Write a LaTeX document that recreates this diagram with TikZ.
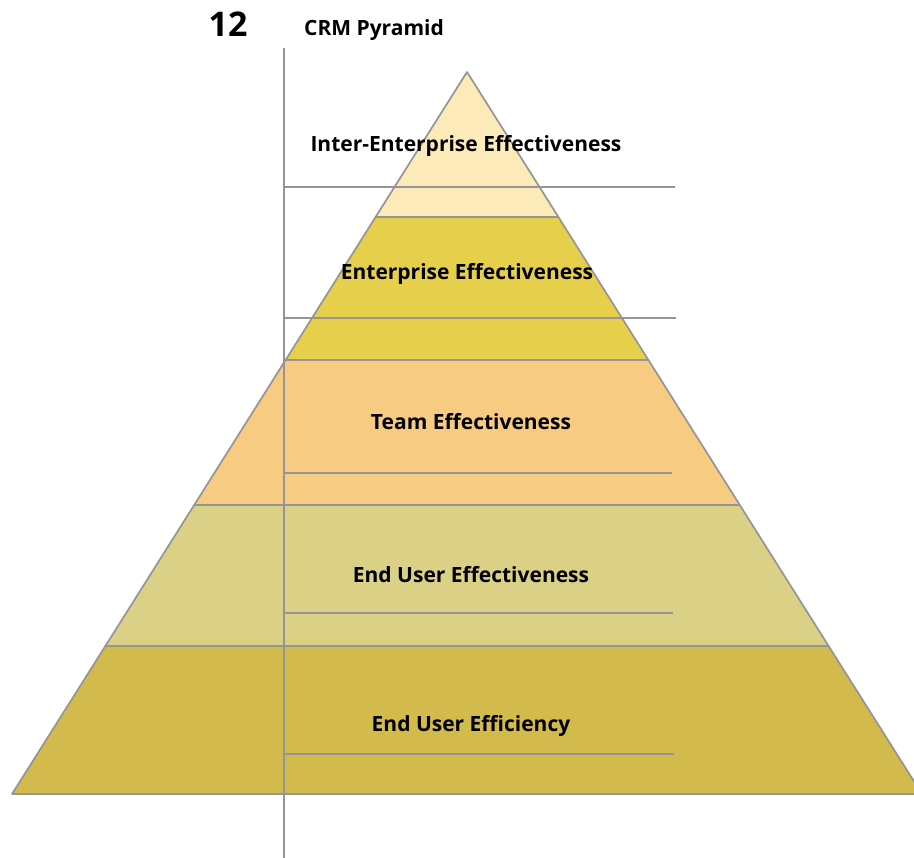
\documentclass[tikz,border=0pt]{standalone}
\usepackage{fontspec}
\setmainfont{Open Sans}
\begin{document}
\begin{tikzpicture}[x=1pt,y=-1pt,
  rule/.style={draw=ruleGray,line width=1.7pt},
  tier/.style={draw=ruleGray,line width=1.7pt,line join=round},
  tierlabel/.style={font=\bfseries\fontsize{21}{24}\selectfont,inner sep=0pt,anchor=center},
  ]
\definecolor{ruleGray}{HTML}{959595}
\definecolor{tierA}{HTML}{FDEAB9}
\definecolor{tierB}{HTML}{E5CF4B}
\definecolor{tierC}{HTML}{F8CB82}
\definecolor{tierD}{HTML}{DAD086}
\definecolor{tierE}{HTML}{D3BA4D}
\useasboundingbox (0,0) rectangle (914,858);
\clip (0,0) rectangle (914,858);
% pyramid tiers, apex at (467,72), half-width grows 0.630 per unit of depth
\filldraw[tier,fill=tierA] (467,72) -- (558.4,217) -- (375.6,217) -- cycle;
\filldraw[tier,fill=tierB] (375.6,217) -- (558.4,217) -- (648.4,360) -- (285.6,360) -- cycle;
\filldraw[tier,fill=tierC] (285.6,360) -- (648.4,360) -- (739.8,505) -- (194.2,505) -- cycle;
\filldraw[tier,fill=tierD] (194.2,505) -- (739.8,505) -- (828.6,646) -- (105.4,646) -- cycle;
\filldraw[tier,fill=tierE] (105.4,646) -- (828.6,646) -- (922,794) -- (12,794) -- cycle;
% axis and guide rules
\coordinate (axT) at (284,48);
\coordinate (axB) at (284,858);
\draw[rule] (axT) -- (axB);
\foreach \yy/\xe in {187/675,318/676,473/672,613/673,754/674}{
  \draw[rule] (284,\yy) -- (\xe,\yy);
}
% headings
\node[font=\bfseries\fontsize{34}{38}\selectfont,inner sep=0pt] (num) at (228,24) {12};
\node[font=\bfseries\fontsize{21}{24}\selectfont,inner sep=0pt] (ttl) at (374,30) {CRM Pyramid};
% tier labels
\node[tierlabel] (l1) at (466,146) {Inter-Enterprise Effectiveness};
\node[tierlabel] (l2) at (467,274) {Enterprise Effectiveness};
\node[tierlabel] (l3) at (471,422) {Team Effectiveness};
\node[tierlabel] (l4) at (471,575) {End User Effectiveness};
\node[tierlabel] (l5) at (471,726) {End User Efficiency};
\end{tikzpicture}
\end{document}
